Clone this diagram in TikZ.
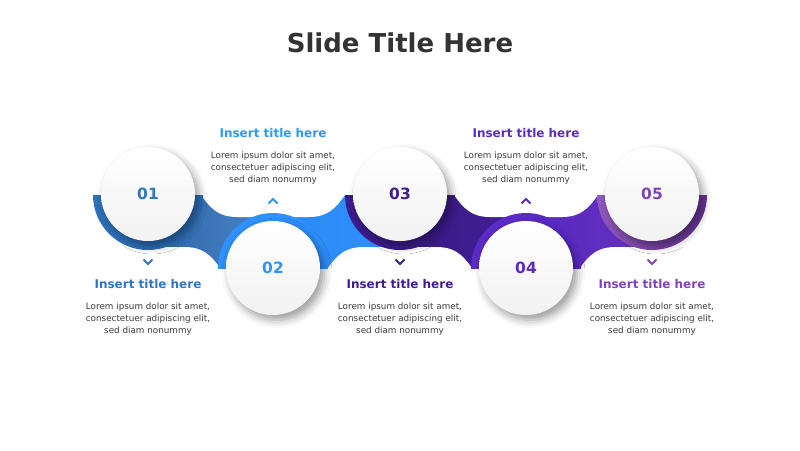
\documentclass[tikz,border=0pt]{standalone}
\usepackage{fontspec}
\setmainfont{DejaVu Sans}
\usetikzlibrary{shadows.blur}

\definecolor{titlegray}{HTML}{333333}
\definecolor{bodygray}{HTML}{3A3A3A}
\definecolor{discgray}{HTML}{F2F2F2}
\definecolor{stepA}{HTML}{2F75C6}
\definecolor{stepB}{HTML}{2E96FF}
\definecolor{stepC}{HTML}{3E1E90}
\definecolor{stepD}{HTML}{5B2AC4}
\definecolor{stepE}{HTML}{8043BA}
\definecolor{ringA}{HTML}{2E70BC}
\definecolor{ringB}{HTML}{2F90FF}
\definecolor{ringC}{HTML}{3D1C8E}
\definecolor{ringD}{HTML}{5B2BC6}
\definecolor{ringE}{HTML}{7E3DB5}

\tikzset{
  disc/.style={circle, minimum size=94pt, inner sep=0pt,
    top color=white, bottom color=discgray,
    blur shadow={shadow xshift=4pt, shadow yshift=-5pt,
      shadow blur radius=8pt, shadow opacity=40},
    font=\fontsize{15.5}{15.5}\selectfont\bfseries},
  heading/.style={anchor=base, inner sep=0pt,
    font=\fontsize{12}{12}\selectfont\bfseries},
  body/.style={anchor=north, inner sep=0pt, align=center, text=bodygray,
    font=\fontsize{8.8}{12}\selectfont},
  chev/.style={line width=2pt, miter limit=4}
}

\begin{document}
\begin{tikzpicture}[x=1pt,y=-1pt]
  \useasboundingbox (0,0) rectangle (800,450);
  \node[anchor=base, text=titlegray, font=\fontsize{26}{26}\selectfont\bfseries]
    (title) at (400,52) {Slide Title Here};

  % band, one piece per step
  \shade[left color=ringA!90!black, right color=ringA!85!white] (148,195) rectangle (273.5,268);
  \shade[left color=ringB!95!black, right color=ringB] (273,195) rectangle (400.5,268);
  \shade[left color=ringC!90!black, right color=ringC!80!ringD] (400,195) rectangle (526.5,268);
  \shade[left color=ringD!95!black, right color=ringD!70!ringE] (526,195) rectangle (652,268);

  % white bites, top side
  \fill[white] (199,193) -- (201,195) .. controls (211,209) and (219,217) .. (237,217)
    -- (309,217) .. controls (327,217) and (335,209) .. (345,195) -- (347,193) -- cycle;
  \fill[white] (452,193) -- (454,195) .. controls (464,209) and (472,217) .. (490,217)
    -- (562,217) .. controls (580,217) and (588,209) .. (598,195) -- (600,193) -- cycle;
  % white bites, bottom side
  \fill[white] (74,270) -- (76,268) .. controls (86,254) and (94,247) .. (112,247)
    -- (184,247) .. controls (202,247) and (210,254) .. (220,268) -- (222,270) -- cycle;
  \fill[white] (326,270) -- (328,268) .. controls (338,254) and (346,247) .. (364,247)
    -- (436,247) .. controls (454,247) and (462,254) .. (472,268) -- (474,270) -- cycle;
  \fill[white] (578,270) -- (580,268) .. controls (590,254) and (598,247) .. (616,247)
    -- (688,247) .. controls (706,247) and (714,254) .. (724,268) -- (726,270) -- cycle;

  % rings behind the discs
  \begin{scope}
    \clip (80,195) rectangle (720,268);
    \fill[ringA] (148,195) circle (55);
    \fill[ringB] (273,268) circle (55);
    \fill[ringC] (400,195) circle (55);
    \fill[ringD] (526,268) circle (55);
    \shade[left color=ringE!85!white, right color=ringE!85!black] (652,195) circle (55);
  \end{scope}

  % discs
  \node[disc, text=stepA] (d1) at (148,194) {01};
  \node[disc, text=stepB] (d2) at (273,268) {02};
  \node[disc, text=stepC] (d3) at (400,194) {03};
  \node[disc, text=stepD] (d4) at (526,268) {04};
  \node[disc, text=stepE] (d5) at (652,194) {05};

  % chevrons
  \draw[chev, stepA] (143.5,259.5) -- (148,264) -- (152.5,259.5);
  \draw[chev, stepB] (268.5,203.5) -- (273,199) -- (277.5,203.5);
  \draw[chev, stepC] (395.5,259.5) -- (400,264) -- (404.5,259.5);
  \draw[chev, stepD] (521.5,203.5) -- (526,199) -- (530.5,203.5);
  \draw[chev, stepE] (647.5,259.5) -- (652,264) -- (656.5,259.5);

  % texts
  \node[heading, text=stepA] (h1) at (148,288) {Insert title here};
  \node[body] (b1) at (148,302.5) {Lorem ipsum dolor sit amet,\\consectetuer adipiscing elit,\\sed diam nonummy};
  \node[heading, text=stepB] (h2) at (273,137) {Insert title here};
  \node[body] (b2) at (273,151.5) {Lorem ipsum dolor sit amet,\\consectetuer adipiscing elit,\\sed diam nonummy};
  \node[heading, text=stepC] (h3) at (400,288) {Insert title here};
  \node[body] (b3) at (400,302.5) {Lorem ipsum dolor sit amet,\\consectetuer adipiscing elit,\\sed diam nonummy};
  \node[heading, text=stepD] (h4) at (526,137) {Insert title here};
  \node[body] (b4) at (526,151.5) {Lorem ipsum dolor sit amet,\\consectetuer adipiscing elit,\\sed diam nonummy};
  \node[heading, text=stepE] (h5) at (652,288) {Insert title here};
  \node[body] (b5) at (652,302.5) {Lorem ipsum dolor sit amet,\\consectetuer adipiscing elit,\\sed diam nonummy};
\end{tikzpicture}
\end{document}
